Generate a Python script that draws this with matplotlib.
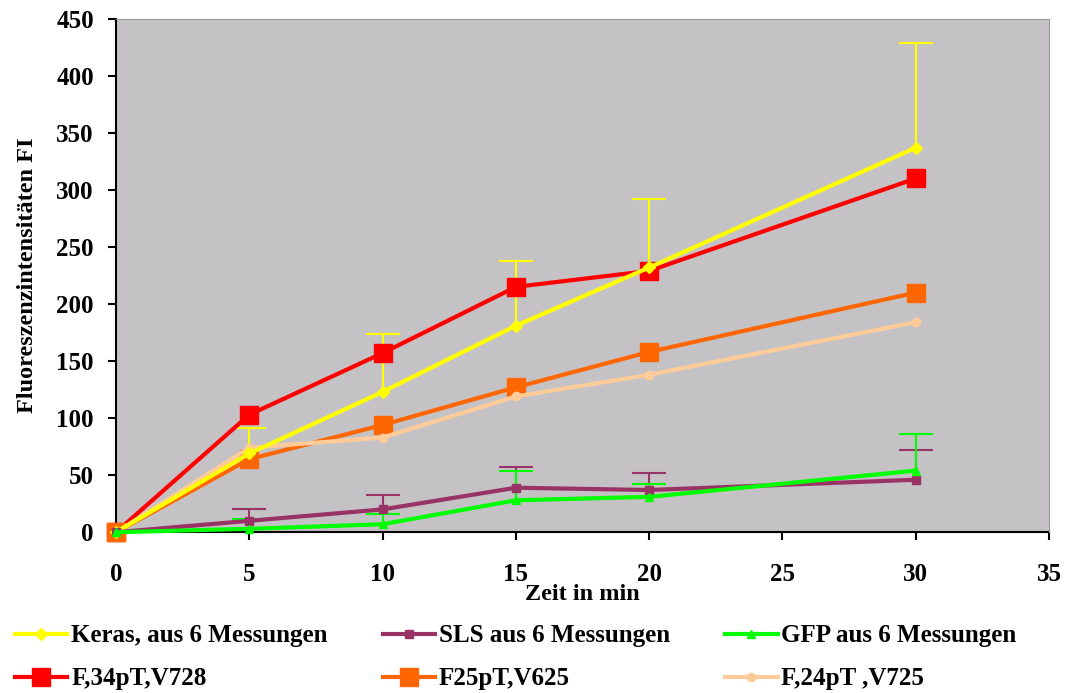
#!/usr/bin/python3

import numpy as np
import matplotlib.pyplot as plt

plt.rcParams['font.family'] = ['Liberation Serif', 'DejaVu Serif']
plt.rcParams['font.weight'] = 'bold'

# Zeitpunkte in min
zeit = [0, 5, 10, 15, 20, 30]

keras = [0, 69, 123, 181, 232, 337]
keras_top = [0, 91, 174, 238, 292, 429]
sls = [0, 10, 20, 39, 37, 46]
sls_top = [0, 20, 33, 57, 52, 72]
gfp = [0, 3, 7, 28, 31, 54]
gfp_top = [0, 12, 16, 54, 42, 86]
f34 = [0, 103, 157, 215, 229, 310]
f25 = [0, 64, 94, 127, 158, 210]
f24 = [0, 74, 83, 119, 138, 184]

labels = ["Keras, aus 6 Messungen", "SLS aus 6 Messungen",
          "GFP aus 6 Messungen", "F,34pT,V728", "F25pT,V625",
          "F,24pT ,V725"]


def up_errbar(ax, vals, tops, color, marker):
    """
    line with error bars only going upward (like excel "plus")
    """
    vals = np.array(vals)
    err = [np.zeros(len(vals)), np.array(tops) - vals]
    line, caps, bars = ax.errorbar(zeit, vals, yerr=err, color=color, lw=3,
                                   marker=marker, ms=6, capsize=12,
                                   elinewidth=1.5, capthick=1.5)
    caps[0].set_visible(False)
    line.set_clip_on(False)
    return line


fig = plt.figure(figsize=(10.65, 6.93), dpi=100)
ax = fig.add_axes([0.109, 0.232, 0.876, 0.741])
ax.set_facecolor('#C4C2C5')

handles = []
handles.append(up_errbar(ax, keras, keras_top, '#FFFF00', 'D'))
handles.append(up_errbar(ax, sls, sls_top, '#993366', 's'))
handles.append(up_errbar(ax, gfp, gfp_top, '#00FF00', '^'))
h, = ax.plot(zeit, f34, color='#FF0000', lw=3, marker='s', ms=13,
             clip_on=False)
handles.append(h)
h, = ax.plot(zeit, f25, color='#FF6600', lw=3, marker='s', ms=13,
             clip_on=False)
handles.append(h)
h, = ax.plot(zeit, f24, color='#FFCC99', lw=3, marker='o', ms=6,
             clip_on=False)
handles.append(h)

ax.set_xlim(0, 35)
ax.set_ylim(0, 450)
ax.set_xticks(range(0, 36, 5))
ax.set_yticks(range(0, 451, 50))
ax.tick_params(labelsize=18, length=6, width=1.5)
ax.tick_params(axis='x', pad=16)
ax.tick_params(axis='y', pad=10)
for s in ['left', 'bottom']:
    ax.spines[s].set_linewidth(1.5)
    ax.spines[s].set_zorder(0.5)
for s in ['top', 'right']:
    ax.spines[s].set_color('#999999')

ax.set_ylabel("Fluoreszenzintensitäten FI", fontsize=17.5,
              fontweight='bold')
ax.yaxis.set_label_coords(-0.084, 0.5)
ax.set_xlabel("Zeit in min", fontsize=17.5, fontweight='bold')
ax.xaxis.set_label_coords(0.5, -0.10)

# legend rows like excel: fill row by row
order = [0, 3, 1, 4, 2, 5]
fig.legend([handles[i] for i in order], [labels[i] for i in order],
           loc='upper left', bbox_to_anchor=(0.014, 0.099),
           ncol=3, frameon=False, fontsize=18, handlelength=2.1,
           handletextpad=0.15, columnspacing=2.2, labelspacing=0.8,
           borderpad=0, borderaxespad=0)

fig.savefig("out.png", dpi=100)
